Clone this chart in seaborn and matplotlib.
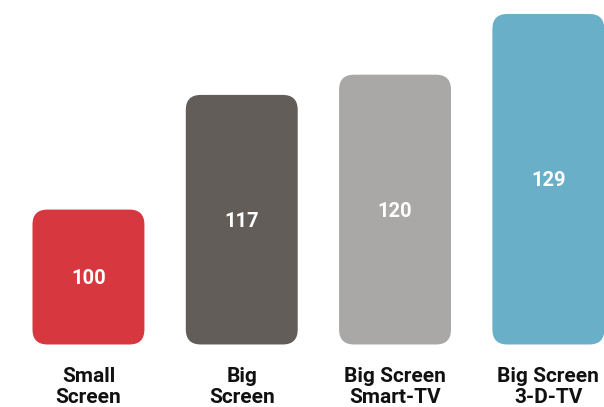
import pandas as pd
import seaborn as sns
import matplotlib.pyplot as plt
from matplotlib.patches import FancyBboxPatch

sns.set_theme(style="white")
plt.rcParams['font.family'] = ['Roboto', 'DejaVu Sans']

categories = ["Small\nScreen", "Big\nScreen", "Big Screen\nSmart-TV", "Big Screen\n3-D-TV"]
values = [100, 117, 120, 129]
colors = ['#d7373f', '#625d59', '#a9a8a6', '#6aafc8']
base = 80

df = pd.DataFrame({'category': categories, 'value': values})

fig = plt.figure(figsize=(6.04, 4.07), dpi=100)
ax = fig.add_axes([0, 0.14, 1, 0.86])
sns.barplot(data=df, x='category', y='value', hue='category', palette=colors,
            width=0.73, legend=False, ax=ax)

# swap the plain bars for rounded ones starting at the baseline
for p, c in zip(list(ax.patches), colors):
    x0, w, h = p.get_x(), p.get_width(), p.get_height()
    p.remove()
    box = FancyBboxPatch((x0, base), w, h - base,
                         boxstyle="round,pad=0,rounding_size=0.098",
                         mutation_aspect=22.6, fc=c, ec='none')
    ax.add_patch(box)
    ax.text(x0 + w / 2, (base + h) / 2 - 0.25, f"{h:.0f}", color='white',
            fontsize=14.5, fontweight='bold', ha='center', va='center')

ax.set_xlim(-0.577, 3.363)
ax.set_ylim(79.18, 131.07)
ax.set_xlabel('')
ax.set_ylabel('')
ax.set_yticks([])
ax.tick_params(axis='x', length=0, pad=12)
for lab in ax.get_xticklabels():
    lab.set_fontsize(15)
    lab.set_fontweight('bold')
    lab.set_color('#111111')
    lab.set_linespacing(1.15)
sns.despine(ax=ax, left=True, bottom=True)

fig.savefig('out.png', dpi=100, facecolor='white')
